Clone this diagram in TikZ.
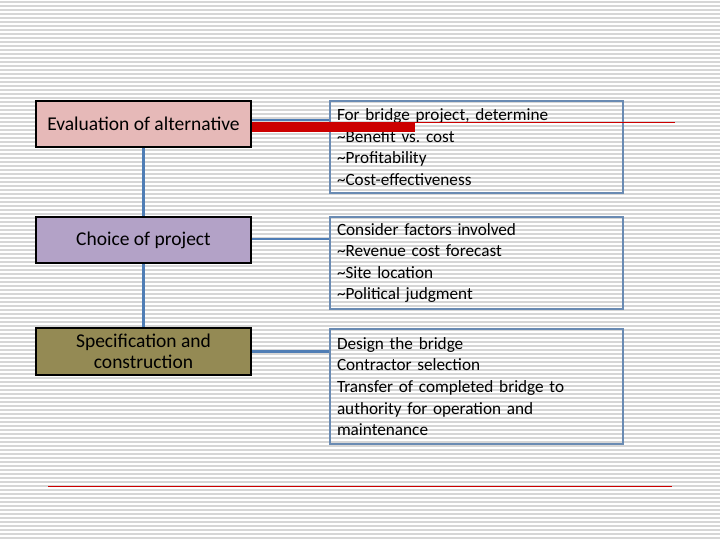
\documentclass[tikz,border=0pt]{standalone}
\usepackage{fontspec}
\setmainfont{Carlito}
\definecolor{pinkc}{HTML}{E6B9B8}
\definecolor{purplec}{HTML}{B3A2C7}
\definecolor{olivec}{HTML}{948A54}
\definecolor{bluec}{HTML}{4F7DB5}
\definecolor{boxblue}{HTML}{6A8BB3}
\definecolor{redc}{HTML}{CC0000}
\definecolor{stripec}{HTML}{D6D6D6}
\frenchspacing
\begin{document}
\begin{tikzpicture}[x=1pt,y=-1pt,
  stripe/.style={draw=stripec,line width=1.1pt},
  leftbox/.style={draw=black,line width=1.8pt,minimum width=215pt,minimum height=46pt,inner sep=2pt,align=center,font=\fontsize{19.5}{20.5}\selectfont},
  rightbox/.style={draw=boxblue,line width=1.6pt,minimum width=293pt,text width=279pt,inner xsep=7pt,align=left,font=\fontsize{17.2}{21.6}\selectfont},
  conn/.style={draw=bluec,line width=1.8pt},
  vconn/.style={draw=bluec,line width=2.6pt},
  redbar/.style={draw=redc,line width=10pt},
  redline/.style={draw=redc,line width=1pt}]
\useasboundingbox (0,0) rectangle (720,540);
\fill[white] (0,0) rectangle (720,540);
\foreach \i in {0,...,134} {\draw[stripe] (0,\i*4+2) -- (720,\i*4+2);}
% left boxes
\node[leftbox,fill=pinkc] (e) at (143.5,124) {Evaluation of alternative};
\node[leftbox,fill=purplec] (c) at (143.5,240) {Choice of project};
\node[leftbox,fill=olivec,minimum height=47pt] (s) at (143.5,351.5) {Specification and\\construction};
% right boxes
\node[rightbox,minimum height=92pt] (a) at (476.5,147) {For bridge project, determine\\\textasciitilde Benefit vs. cost\\\textasciitilde Profitability\\\textasciitilde Cost-effectiveness};
\node[rightbox,minimum height=92pt] (b) at (476.5,263) {Consider factors involved\\\textasciitilde Revenue cost forecast\\\textasciitilde Site location\\\textasciitilde Political judgment};
\node[rightbox,minimum height=115pt] (d) at (476.5,386.5) {Design the bridge\\Contractor selection\\Transfer of completed bridge to\\authority for operation and\\maintenance};
% connectors
\draw[vconn] (e.south) -- (c.north);
\draw[vconn] (c.south) -- (s.north);
\draw[conn] ([yshift=4pt]e.east) -- ([yshift=4pt]e.east -| a.west);
\draw[conn] ([yshift=1pt]c.east) -- ([yshift=1pt]c.east -| b.west);
\draw[conn,line width=2.6pt] (s.east) -- (s.east -| d.west);
% red decoration
\coordinate (rend) at (415,123);
\coordinate (rfar) at (675,123);
\draw[redbar] ([yshift=-3pt]e.east) -- ([yshift=-3pt]e.east -| rend);
\draw[redline] (rend) -- (rfar);
\coordinate (bl) at (48,486);
\coordinate (br) at (672,486);
\draw[redline] (bl) -- (br);
\end{tikzpicture}
\end{document}
